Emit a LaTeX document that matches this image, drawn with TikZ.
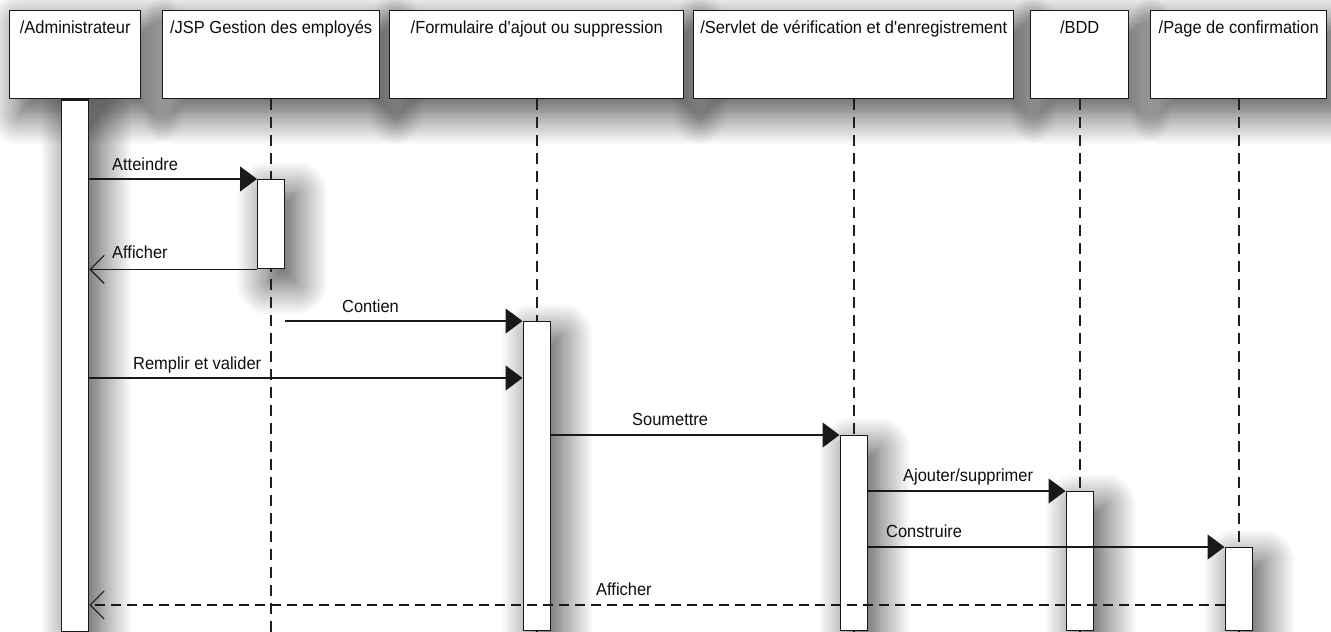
\documentclass[tikz,border=0pt]{standalone}
\usepackage{fontspec}
\setmainfont{Liberation Sans}[FakeStretch=0.94]
\usetikzlibrary{arrows.meta,shadows.blur}
\pgfdeclarelayer{shade}
\pgfsetlayers{shade,main}
\begin{document}
\begin{tikzpicture}[x=1pt,y=-1pt,
  ink/.style={draw=black!90, line width=1.4pt},
  softshadow/.style={fill=white, blur shadow={shadow xshift=11pt, shadow yshift=-14pt,
      shadow blur radius=32pt, shadow blur steps=20, shadow opacity=72}},
  objbox/.style={ink, fill=white, rectangle, inner sep=0pt, anchor=north west,
      minimum height=88pt},
  objtitle/.style={anchor=base, inner sep=0pt, text=black!95,
      font=\fontsize{17.5}{20}\selectfont},
  msgtext/.style={anchor=base west, inner sep=0pt, text=black!95,
      font=\fontsize{17.5}{20}\selectfont},
  actbar/.style={ink, fill=white, rectangle, inner sep=0pt, anchor=north,
      minimum width=27pt},
  lifeline/.style={draw=black!88, line width=1.7pt, dash pattern=on 11pt off 7pt},
  call/.style={ink, -{Triangle[length=17pt,width=25pt]}},
  reply/.style={ink, -{Straight Barb[length=14pt,width=28pt,line width=1.1pt]}},
  replydash/.style={reply, dash pattern=on 10pt off 6pt},
]
\useasboundingbox (0,0) rectangle (1331,632);

% object heads
\node[objbox, minimum width=131pt] (adm) at (9,10) {};
\node[objbox, minimum width=217pt] (jsp) at (162,10) {};
\node[objbox, minimum width=294pt] (frm) at (389,10) {};
\node[objbox, minimum width=320pt] (srv) at (693,10) {};
\node[objbox, minimum width=98pt]  (bdd) at (1030,10) {};
\node[objbox, minimum width=176pt] (pg)  at (1150,10) {};

\node[objtitle] (admT) at ([yshift=-23pt]adm.north) {/Administrateur};
\node[objtitle] (jspT) at ([yshift=-23pt]jsp.north) {/JSP Gestion des employés};
\node[objtitle] (frmT) at ([yshift=-23pt]frm.north) {/Formulaire d\textquotesingle ajout ou suppression};
\node[objtitle] (srvT) at ([yshift=-23pt]srv.north) {/Servlet de vérification et d\textquotesingle enregistrement};
\node[objtitle] (bddT) at ([yshift=-23pt]bdd.north) {/BDD};
\node[objtitle] (pgT)  at ([yshift=-23pt]pg.north)  {/Page de confirmation};

% lifelines
\foreach \o in {jsp,frm,srv,bdd,pg}{
  \coordinate (\o End) at (\o.south |- 0,632);
  \draw[lifeline] (\o.south) -- (\o End);
}

% activation bars
\node[actbar, minimum height=532pt] (admAct) at (adm.south) {};
\node[actbar, minimum height=89pt]  (jspAct) at (jsp.south |- 0,179) {};
\node[actbar, minimum height=309pt] (frmAct) at (frm.south |- 0,321) {};
\node[actbar, minimum height=195pt] (srvAct) at (srv.south |- 0,435) {};
\node[actbar, minimum height=139pt] (bddAct) at (bdd.south |- 0,491) {};
\node[actbar, minimum height=83pt]  (pgAct)  at (pg.south  |- 0,547) {};

% soft drop shadows, kept beneath every box
\begin{pgfonlayer}{shade}
  \foreach \o in {adm,jsp,frm,srv,bdd,pg,admAct,jspAct,frmAct,srvAct,bddAct,pgAct}{
    \path[softshadow] (\o.north west) rectangle (\o.south east);
  }
\end{pgfonlayer}

% rows of the two messages that do not start an activation
\coordinate (rowFill) at (0,378);
\coordinate (rowBack) at (0,605);

% messages
\draw[call] (admAct.east |- jspAct.north) -- (jspAct.north west);
\draw[reply] (jspAct.south west) -- (admAct.east |- jspAct.south);
\draw[call] (jspAct.east |- frmAct.north) -- (frmAct.north west);
\draw[call] (admAct.east |- rowFill) -- (frmAct.west |- rowFill);
\draw[call] (frmAct.east |- srvAct.north) -- (srvAct.north west);
\draw[call] (srvAct.east |- bddAct.north) -- (bddAct.north west);
\draw[call] (srvAct.east |- pgAct.north) -- (pgAct.north west);
\draw[replydash] (pgAct.west |- rowBack) -- (admAct.east |- rowBack);

% message labels
\node[msgtext] (l1) at (112,170) {Atteindre};
\node[msgtext] (l2) at (112,258) {Afficher};
\node[msgtext] (l3) at (342,312) {Contien};
\node[msgtext] (l4) at (133,369) {Remplir et valider};
\node[msgtext] (l5) at (632,425) {Soumettre};
\node[msgtext] (l6) at (903,481) {Ajouter/supprimer};
\node[msgtext] (l7) at (886,537) {Construire};
\node[msgtext] (l8) at (596,595) {Afficher};
\end{tikzpicture}
\end{document}
